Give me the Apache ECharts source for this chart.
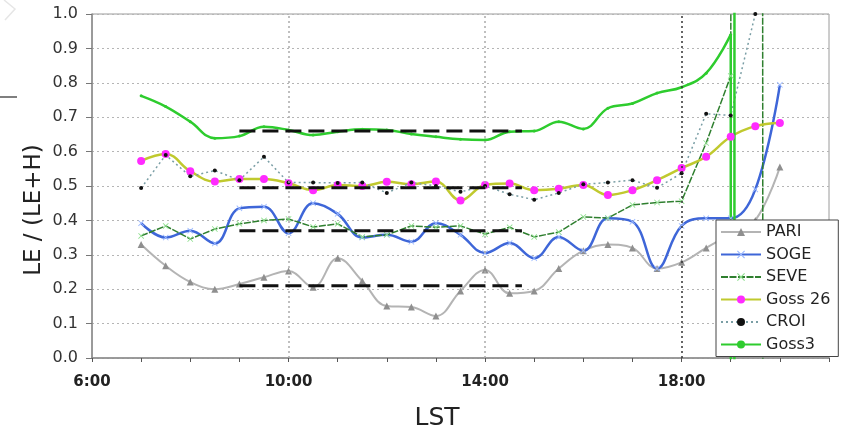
<!DOCTYPE html>
<html>
<head>
<meta charset="utf-8">
<script src="https://cdn.jsdelivr.net/npm/echarts@6/dist/echarts.min.js"></script>
<style>
  html, body { margin: 0; padding: 0; background: #fff; }
  #chart { width: 861px; height: 431px; }
</style>
</head>
<body>
<div id="chart"></div>
<script>
// LE / (LE+H) against local solar time, half-hourly from 7:00
const hours = [7, 7.5, 8, 8.5, 9, 9.5, 10, 10.5, 11, 11.5, 12, 12.5, 13, 13.5,
  14, 14.5, 15, 15.5, 16, 16.5, 17, 17.5, 18, 18.5, 19, 19.5, 20];

const pari = [0.33, 0.268, 0.221, 0.20, 0.215, 0.235, 0.253, 0.206, 0.29, 0.224,
  0.151, 0.148, 0.122, 0.195, 0.256, 0.188, 0.195, 0.26, 0.312, 0.33, 0.32,
  0.26, 0.278, 0.32, 0.36, 0.40, 0.555];
const soge = [0.392, 0.35, 0.37, 0.333, 0.435, 0.44, 0.363, 0.45, 0.419, 0.35,
  0.358, 0.338, 0.392, 0.358, 0.305, 0.334, 0.29, 0.352, 0.312, 0.406, 0.396,
  0.26, 0.384, 0.406, 0.406, 0.49, 0.794];
const seve = [0.355, 0.384, 0.346, 0.375, 0.39, 0.40, 0.404, 0.381, 0.39, 0.352,
  0.358, 0.384, 0.38, 0.384, 0.36, 0.38, 0.352, 0.366, 0.41, 0.407, 0.445,
  0.452, 0.456, 0.625, 0.82, 40, -90];
const goss26 = [0.573, 0.593, 0.543, 0.513, 0.52, 0.52, 0.508, 0.488, 0.503, 0.50,
  0.512, 0.505, 0.513, 0.458, 0.503, 0.507, 0.488, 0.492, 0.503, 0.474, 0.488,
  0.517, 0.552, 0.585, 0.643, 0.674, 0.683];
// CROI stops at 19:30
const croi = [0.494, 0.59, 0.528, 0.545, 0.517, 0.585, 0.51, 0.51, 0.509, 0.51,
  0.48, 0.51, 0.50, 0.483, 0.50, 0.476, 0.46, 0.48, 0.505, 0.51, 0.517,
  0.495, 0.537, 0.71, 0.705, 1.0];
// Goss3 up to 19:00, then the spike just after
const goss3 = [0.762, 0.731, 0.687, 0.639, 0.645, 0.672, 0.663, 0.648, 0.658, 0.665,
  0.663, 0.651, 0.643, 0.636, 0.634, 0.658, 0.66, 0.687, 0.666, 0.726, 0.74,
  0.77, 0.787, 0.828, 0.94];
const goss3TailHours = [19, 19.05, 19.1];
const goss3Tail = [0.94, -30, 30];

const xTickHours = [6, 10, 14, 18];
const xTickLabels = ['6:00', '10:00', '14:00', '18:00'];
const gridHours = [10, 14, 18];

// daytime means (black dashes)
const meanStart = 9;
const meanEnd = 14.75;
const meanLevels = [0.66, 0.495, 0.37, 0.21];

const font = 'DejaVu Sans';
const xMark = 'path://M1,0 L5,4 L9,0 L10,1 L6,5 L10,9 L9,10 L5,6 L1,10 L0,9 L4,5 L0,1 Z';

const pairs = (xs, ys) => ys.map((y, i) => [xs[i], y]);

const chart = echarts.init(document.getElementById('chart'));

const series = [
  {
    type: 'line',
    data: [],
    z: 1,
    silent: true,
    markLine: {
      silent: true,
      symbol: ['none', 'none'],
      label: { show: false },
      data: gridHours.map(h => ({
        xAxis: h,
        lineStyle: { color: h === 18 ? '#333' : '#aaa', type: [2, 3], width: 1.5 },
      })),
    },
  },
  {
    name: 'PARI',
    type: 'line',
    data: pairs(hours, pari),
    smooth: 0.4,
    symbol: 'triangle',
    symbolSize: 7,
    lineStyle: { color: '#b4b4b4', width: 2 },
    itemStyle: { color: '#8f8f8f' },
  },
  {
    name: 'SOGE',
    type: 'line',
    data: pairs(hours, soge),
    smooth: 0.4,
    symbol: xMark,
    symbolSize: 6,
    lineStyle: { color: '#3e66d8', width: 2.5 },
    itemStyle: { color: '#9ab8ff' },
  },
  {
    name: 'SEVE',
    type: 'line',
    data: pairs(hours, seve),
    symbol: xMark,
    symbolSize: 6,
    lineStyle: { color: '#2f7f2f', width: 1.5, type: [7, 1.5] },
    itemStyle: { color: '#8fe08f' },
  },
  {
    name: 'Goss 26',
    type: 'line',
    data: pairs(hours, goss26),
    smooth: 0.4,
    symbol: 'circle',
    symbolSize: 8,
    lineStyle: { color: '#c0c92e', width: 2.5 },
    itemStyle: { color: '#ff2bff' },
  },
  {
    name: 'CROI',
    type: 'line',
    data: pairs(hours, croi),
    symbol: 'circle',
    symbolSize: 4,
    lineStyle: { color: '#7a9ea5', width: 1.5, type: [2, 3] },
    itemStyle: { color: '#111' },
  },
  {
    name: 'Goss3',
    type: 'line',
    data: pairs(hours, goss3),
    smooth: 0.4,
    symbol: 'circle',
    symbolSize: 3,
    lineStyle: { color: '#2ecc2e', width: 2.5 },
    itemStyle: { color: '#2ecc2e' },
  },
  {
    name: 'Goss3',
    type: 'line',
    data: pairs(goss3TailHours, goss3Tail),
    symbol: 'none',
    lineStyle: { color: '#2ecc2e', width: 2.5 },
    itemStyle: { color: '#2ecc2e' },
  },
];

meanLevels.forEach(v => {
  series.push({
    type: 'line',
    data: [[meanStart, v], [meanEnd, v]],
    symbol: 'none',
    silent: true,
    z: 5,
    lineStyle: { color: '#111', width: 3, type: [16, 7] },
  });
});

const option = {
  animation: false,
  backgroundColor: '#fff',
  grid: {
    left: 92, right: 32, top: 14, bottom: 73,
    show: true, borderColor: '#9a9a9a', borderWidth: 1,
  },
  xAxis: {
    type: 'value',
    min: 6,
    max: 21,
    interval: 1,
    axisLine: { lineStyle: { color: '#8a8a8a', width: 1.5 } },
    axisTick: { length: 4, lineStyle: { color: '#555' } },
    axisLabel: {
      margin: 17,
      fontFamily: font,
      fontSize: 15,
      fontWeight: 'bold',
      color: '#222',
      formatter: v => {
        const i = xTickHours.indexOf(v);
        return i >= 0 ? xTickLabels[i] : '';
      },
    },
    splitLine: { show: false },
  },
  yAxis: {
    type: 'value',
    min: 0,
    max: 1,
    interval: 0.1,
    axisLine: { show: true, lineStyle: { color: '#8a8a8a', width: 1.5 } },
    axisTick: { show: true, length: 6, lineStyle: { color: '#777' } },
    axisLabel: {
      margin: 14,
      fontFamily: font,
      fontSize: 16,
      color: '#333',
      formatter: v => v.toFixed(1),
    },
    splitLine: { lineStyle: { color: '#b5b5b5', type: [2, 3], width: 1 } },
  },
  legend: {
    data: ['PARI', 'SOGE', 'SEVE', 'Goss 26', 'CROI', 'Goss3'],
    orient: 'vertical',
    left: 716,
    top: 220,
    itemWidth: 40,
    itemHeight: 10,
    itemGap: 4.5,
    padding: [3, 8, 3, 4],
    backgroundColor: '#fff',
    borderColor: '#444',
    borderWidth: 1,
    borderRadius: 0,
    textStyle: { fontFamily: font, fontSize: 16, color: '#222', lineHeight: 18 },
  },
  graphic: [
    {
      type: 'text', x: 437, y: 418,
      style: { text: 'LST', fontFamily: font, fontSize: 25, fill: '#222', align: 'center', verticalAlign: 'middle' },
    },
    {
      type: 'text', x: 34, y: 210, rotation: Math.PI / 2,
      style: { text: 'LE / (LE+H)', fontFamily: font, fontSize: 23, fill: '#222', align: 'center', verticalAlign: 'middle' },
    },
    {
      type: 'line', shape: { x1: 0, y1: 97, x2: 17, y2: 97 },
      style: { stroke: '#555', lineWidth: 1.5 },
    },
    {
      type: 'polyline', shape: { points: [[4, 0], [15, 9], [5, 20]] },
      style: { stroke: '#e6e6e6', lineWidth: 1.5, fill: null },
    },
  ],
  series: series,
};

chart.setOption(option);
</script>
</body>
</html>
